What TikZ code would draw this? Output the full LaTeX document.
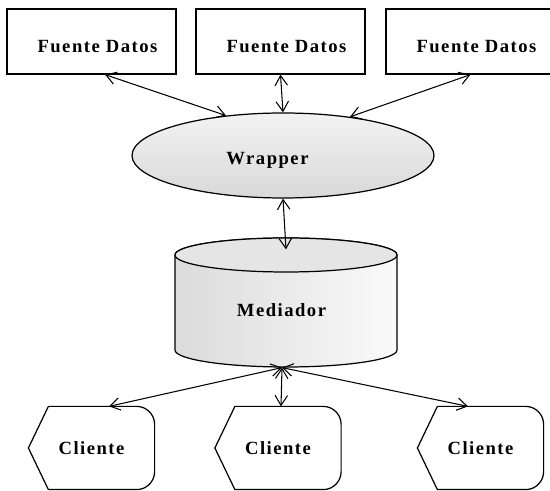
\documentclass[tikz,border=0pt]{standalone}
\usepackage{fontspec}
\setmainfont{Liberation Serif}
\newfontfamily\diagfont[LetterSpace=8.0]{Liberation Serif}
\usetikzlibrary{shapes.geometric,arrows.meta}
\tikzset{
  fuente/.style={draw, minimum width=3.38cm, minimum height=1.3cm, inner sep=0pt,
    label={[shift={(0.12,-0.1)}]center:Fuente Datos}},
  wrapper/.style={ellipse, draw, minimum width=6.04cm, minimum height=1.7cm, inner sep=0pt,
    top color=black!5, bottom color=black!15,
    label={[shift={(-0.31,-0.09)}]center:Wrapper}},
  mediador/.style={minimum width=4.44cm, minimum height=2.58cm, inner sep=0pt,
    label={[shift={(-0.09,-0.15)}]center:Mediador}},
  cliente/.style={minimum width=2.5cm, minimum height=1.64cm, inner sep=0pt},
  link/.style={<->, >={Straight Barb[length=2mm,width=2.5mm]}, line width=0.6pt}
}
\begin{document}
\begin{tikzpicture}[font=\diagfont\bfseries\fontsize{10.6}{12}\selectfont, line width=0.7pt]
  \useasboundingbox (0,0) rectangle (11,9.82);
  \node[fuente] (b1) at (1.83,8.99) {};
  \node[fuente] (b2) at (5.61,8.99) {};
  \node[fuente] (b3) at (9.41,8.99) {};
  \node[wrapper] (w) at (5.66,6.71) {};
  \draw[left color=black!14, right color=black!2] (3.5,4.72) -- (3.5,2.82)
    arc[start angle=180, end angle=360, x radius=2.22, y radius=0.34] -- (7.94,4.72)
    arc[start angle=0, end angle=180, x radius=2.22, y radius=0.34] -- cycle;
  \draw[fill=black!10] (5.72,4.72) ellipse[x radius=2.22, y radius=0.34];
  \node[mediador] (m) at (5.72,3.77) {};
  \node[cliente] (c1) at (1.83,0.86) {Cliente};
  \node[cliente] (c2) at (5.56,0.86) {Cliente};
  \node[cliente] (c3) at (9.61,0.86) {Cliente};
  \foreach \c in {c1,c2,c3}
    \draw (\c.west) -- ([xshift=0.4cm]\c.north west) -- ([xshift=-0.36cm]\c.north east)
      arc[start angle=90, end angle=0, radius=0.36cm] -- ([yshift=0.36cm]\c.south east)
      arc[start angle=0, end angle=-90, radius=0.36cm] -- ([xshift=0.4cm]\c.south west) -- cycle;
  \draw[link] ([xshift=0.27cm]b1.south) -- (w.145);
  \draw[link] (b2.south) -- (w.north);
  \draw[link] (b3.south) -- (w.30);
  \draw[link] (w.south) -- ([yshift=-0.24cm]m.north);
  \draw[link] ([xshift=-0.08cm]m.south) -- ([xshift=0.35cm]c1.north);
  \draw[link] ([xshift=-0.08cm]m.south) -- ([xshift=0.06cm]c2.north);
  \draw[link] ([xshift=-0.08cm]m.south) -- ([xshift=-0.25cm]c3.north);
\end{tikzpicture}
\end{document}
